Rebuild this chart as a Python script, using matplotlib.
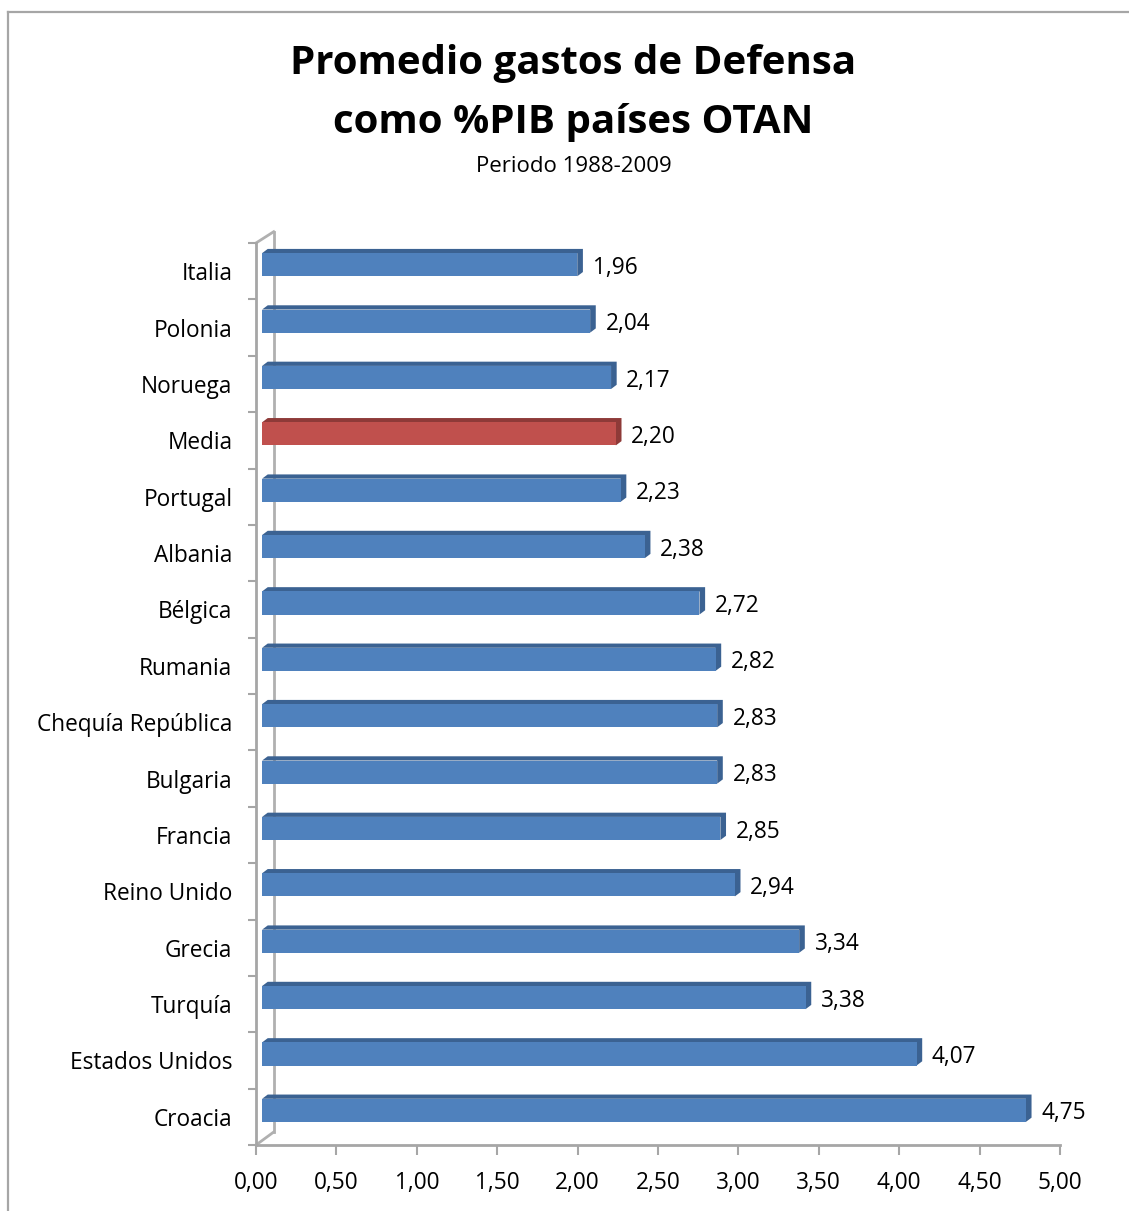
import matplotlib
matplotlib.use("Agg")
import matplotlib.pyplot as plt
from matplotlib.lines import Line2D
from matplotlib.patches import Polygon

countries = ["Italia", "Polonia", "Noruega", "Media", "Portugal", "Albania", "Bélgica",
             "Rumania", "Chequía República", "Bulgaria", "Francia", "Reino Unido",
             "Grecia", "Turquía", "Estados Unidos", "Croacia"]
values = [1.96, 2.04, 2.17, 2.20, 2.23, 2.38, 2.72, 2.82, 2.83, 2.83, 2.85, 2.94,
          3.34, 3.38, 4.07, 4.75]
highlight = "Media"
xticks = [0.0, 0.5, 1.0, 1.5, 2.0, 2.5, 3.0, 3.5, 4.0, 4.5, 5.0]

title = "Promedio gastos de Defensa\ncomo %PIB países OTAN"
subtitle = "Periodo 1988-2009"

FONT = ["Open Sans", "DejaVu Sans"]
plt.rcParams["font.family"] = FONT

W, H = 1129, 1211
fig = plt.figure(figsize=(W / 100, H / 100), dpi=100)
fig.patch.set_facecolor("white")

# outer chart border (left and top only visible)
fig.add_artist(Line2D([8 / W, 8 / W], [0, 1 - 12 / H], transform=fig.transFigure,
                      color="#A6A6A6", lw=1.6))
fig.add_artist(Line2D([8 / W, 1], [1 - 12 / H, 1 - 12 / H], transform=fig.transFigure,
                      color="#A6A6A6", lw=1.6))

left = 256 / W
right = 1060 / W
bottom = (H - 1145) / H
top = 1 - 243 / H
ax = fig.add_axes([left, bottom, right - left, top - bottom])

n = len(countries)
ypos = [n - 1 - i for i in range(n)]

BLUE, BLUE_D = "#4F81BD", "#3B6292"
RED, RED_D = "#C0504D", "#8E3A38"

x0 = 0.038   # front face starts a bit inside the wall
dx = 0.035   # depth offset in x
dy = 0.075   # depth offset in y
yoff = 0.115 # perspective lift of the bars
h = 0.41

SMALL = 16.3

for y, v, c in zip(ypos, values, countries):
    fc, dc = (RED, RED_D) if c == highlight else (BLUE, BLUE_D)
    yb = y + yoff - h / 2
    yt = y + yoff + h / 2
    # top face and side face (depth)
    ax.add_patch(Polygon([(x0, yt), (x0 + dx, yt + dy), (x0 + v + dx, yt + dy),
                          (x0 + v + dx, yb + dy), (x0 + v, yb), (x0 + v, yt)],
                         closed=True, facecolor=dc, edgecolor="none", zorder=2))
    ax.barh(y + yoff, v, left=x0, height=h, color=fc, zorder=3)
    ax.text(x0 + v + 0.095, y + 0.06, f"{v:.2f}".replace(".", ","), va="center",
            ha="left", fontsize=SMALL, color="black")

ax.set_xlim(0, 5)
ax.set_ylim(-0.5, n - 0.5)

for s in ["top", "right"]:
    ax.spines[s].set_visible(False)
ax.spines["left"].set_color("#A6A6A6")
ax.spines["left"].set_linewidth(2)
ax.spines["bottom"].set_color("#A6A6A6")
ax.spines["bottom"].set_linewidth(2)

# back wall line and connecting diagonals
gray = "#B0B0B0"
ax.plot([0.11, 0.11], [-0.27, n - 0.5 + 0.2], color=gray, lw=2, clip_on=False, zorder=1)
ax.plot([0, 0.11], [-0.5, -0.27], color=gray, lw=2, clip_on=False, zorder=1)
ax.plot([0, 0.11], [n - 0.5, n - 0.5 + 0.2], color=gray, lw=2, clip_on=False, zorder=1)

ax.set_xticks(xticks)
ax.set_xticklabels([f"{t:.2f}".replace(".", ",") for t in xticks], fontsize=SMALL)
ax.tick_params(axis="x", length=7, width=1.5, color="#A6A6A6", pad=12)

ax.set_yticks([y - 0.5 for y in range(n + 1)], minor=False)
ax.set_yticklabels([])
ax.tick_params(axis="y", length=6, width=1.5, color="#A6A6A6")
ax.set_yticks(ypos, minor=True)
ax.set_yticklabels(countries, minor=True, fontsize=SMALL)
ax.tick_params(axis="y", which="minor", length=0, pad=17)

fig.text(0.508, 1 - 93 / H, title, ha="center", va="center", fontsize=29,
         fontweight="bold", linespacing=1.64)
fig.text(0.508, 1 - 166 / H, subtitle, ha="center", va="center", fontsize=16)

fig.savefig("out.png", dpi=100)
